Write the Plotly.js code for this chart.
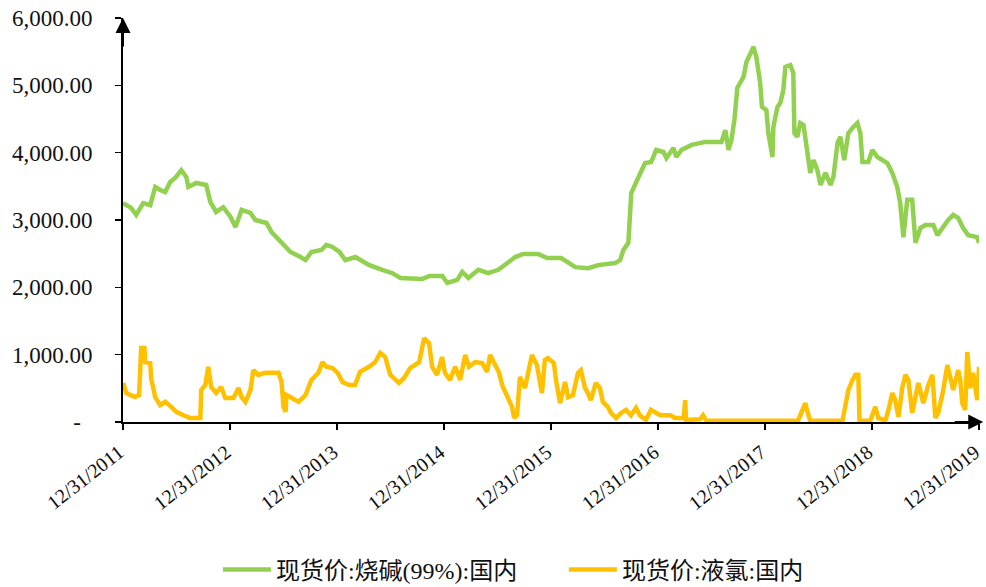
<!DOCTYPE html>
<html>
<head>
<meta charset="utf-8">
<script src="https://cdn.plot.ly/plotly-3.0.1.min.js"></script>
<style>
html,body{margin:0;padding:0;background:#fff;}
#chart{width:986px;height:587px;}
</style>
</head>
<body>
<div id="chart"></div>
<script>
// ---- Data ----
var seriesNames = ["现货价:烧碱(99%):国内", "现货价:液氯:国内"];

var sodaDates = ["2011-12-31","2012-01-28","2012-02-14","2012-03-09","2012-04-02","2012-04-19","2012-05-06","2012-05-23","2012-06-09","2012-06-26","2012-07-17","2012-08-03","2012-08-10","2012-09-06","2012-10-10","2012-10-24","2012-11-13","2012-12-07","2013-01-01","2013-01-18","2013-02-08","2013-03-10","2013-03-27","2013-05-04","2013-05-21","2013-06-24","2013-07-25","2013-08-28","2013-09-14","2013-10-04","2013-11-07","2013-11-24","2013-12-15","2014-01-08","2014-01-28","2014-03-03","2014-04-20","2014-06-03","2014-07-08","2014-08-04","2014-10-18","2014-11-11","2014-12-25","2015-01-11","2015-02-14","2015-03-03","2015-03-24","2015-04-27","2015-05-31","2015-07-04","2015-08-07","2015-08-31","2015-09-27","2015-11-17","2015-12-18","2016-02-04","2016-03-23","2016-05-06","2016-06-09","2016-08-06","2016-08-23","2016-09-03","2016-09-20","2016-09-30","2016-10-17","2016-10-30","2016-11-16","2016-12-07","2016-12-24","2017-01-18","2017-01-28","2017-02-21","2017-03-03","2017-03-20","2017-04-24","2017-06-10","2017-08-04","2017-08-17","2017-08-28","2017-09-07","2017-09-17","2017-09-27","2017-10-18","2017-10-28","2017-11-11","2017-11-21","2017-12-01","2017-12-08","2017-12-14","2017-12-20","2018-01-04","2018-01-11","2018-01-25","2018-01-28","2018-02-11","2018-02-21","2018-03-03","2018-03-10","2018-03-27","2018-04-06","2018-04-10","2018-04-20","2018-04-30","2018-05-11","2018-05-24","2018-06-03","2018-06-14","2018-06-27","2018-07-08","2018-07-25","2018-08-11","2018-08-21","2018-09-04","2018-09-14","2018-09-27","2018-10-11","2018-10-28","2018-11-11","2018-11-21","2018-11-28","2018-12-18","2019-01-01","2019-01-18","2019-02-21","2019-03-10","2019-03-27","2019-04-06","2019-04-17","2019-04-30","2019-05-17","2019-05-28","2019-06-14","2019-07-01","2019-07-28","2019-08-11","2019-08-28","2019-09-17","2019-10-04","2019-10-21","2019-11-07","2019-11-24","2019-12-25","2019-12-31"];
var sodaValues = [3250,3180,3075,3250,3220,3490,3445,3415,3565,3625,3740,3640,3490,3550,3520,3270,3120,3190,3045,2895,3150,3105,3000,2955,2820,2670,2525,2450,2405,2525,2555,2630,2600,2525,2405,2450,2330,2260,2210,2140,2125,2170,2170,2065,2110,2230,2140,2260,2210,2260,2360,2450,2495,2495,2435,2435,2300,2285,2330,2360,2405,2555,2660,3400,3565,3700,3845,3860,4040,4010,3920,4070,3935,4040,4115,4160,4160,4335,4040,4190,4485,4960,5125,5345,5480,5570,5420,5230,5035,4680,4635,4290,3935,4380,4680,4740,4930,5275,5300,5185,4290,4235,4440,4410,3935,3700,3890,3745,3520,3700,3520,3640,4145,4235,3890,4290,4380,4440,4290,3860,3860,4040,3935,3845,3700,3490,3250,2745,3300,3300,2660,2880,2925,2925,2775,2880,3000,3075,3030,2880,2775,2745,2660];

var chlorDates = ["2012-01-01","2012-01-11","2012-02-10","2012-02-24","2012-03-02","2012-03-13","2012-03-16","2012-04-02","2012-04-05","2012-04-19","2012-05-06","2012-05-23","2012-06-13","2012-06-30","2012-07-24","2012-08-16","2012-09-20","2012-09-23","2012-10-07","2012-10-17","2012-10-27","2012-11-13","2012-11-30","2012-12-14","2013-01-11","2013-01-28","2013-02-08","2013-02-21","2013-03-10","2013-03-20","2013-04-06","2013-04-30","2013-06-14","2013-06-24","2013-07-01","2013-07-08","2013-07-11","2013-07-28","2013-08-21","2013-09-14","2013-10-04","2013-10-28","2013-11-11","2013-11-24","2013-12-15","2014-01-02","2014-01-18","2014-02-10","2014-03-02","2014-03-19","2014-04-19","2014-05-10","2014-05-27","2014-06-13","2014-06-30","2014-07-30","2014-08-16","2014-09-06","2014-10-07","2014-10-24","2014-11-10","2014-11-20","2014-12-07","2014-12-24","2015-01-03","2015-01-20","2015-02-07","2015-02-24","2015-03-13","2015-03-26","2015-04-16","2015-05-10","2015-05-27","2015-06-06","2015-06-20","2015-07-07","2015-07-17","2015-08-03","2015-08-20","2015-08-27","2015-09-06","2015-09-16","2015-10-03","2015-10-27","2015-11-13","2015-11-30","2015-12-10","2015-12-20","2016-01-10","2016-01-17","2016-01-31","2016-02-17","2016-02-27","2016-03-15","2016-04-01","2016-04-11","2016-04-25","2016-05-05","2016-05-15","2016-06-01","2016-06-15","2016-06-25","2016-07-12","2016-07-23","2016-08-09","2016-08-26","2016-09-12","2016-09-29","2016-10-16","2016-10-29","2016-11-19","2016-12-06","2016-12-20","2017-01-07","2017-02-10","2017-02-27","2017-03-19","2017-03-28","2017-04-02","2017-04-05","2017-05-23","2017-06-02","2017-06-13","2018-04-22","2018-04-30","2018-05-17","2018-05-28","2018-06-03","2018-09-21","2018-10-01","2018-10-11","2018-10-25","2018-11-04","2018-11-14","2018-11-18","2018-12-25","2019-01-11","2019-01-21","2019-02-14","2019-02-25","2019-03-10","2019-03-20","2019-03-31","2019-04-13","2019-04-24","2019-05-04","2019-05-17","2019-05-28","2019-06-07","2019-06-24","2019-07-11","2019-07-25","2019-08-04","2019-08-14","2019-08-31","2019-09-14","2019-09-24","2019-10-04","2019-10-21","2019-10-28","2019-11-04","2019-11-14","2019-11-21","2019-12-01","2019-12-11","2019-12-25","2019-12-31"];
var chlorValues = [580,430,370,400,1100,1100,890,875,650,370,250,300,225,150,100,60,60,475,550,820,520,430,520,355,355,505,370,300,475,770,700,730,730,595,225,150,400,355,300,400,625,730,890,820,800,730,595,550,550,745,820,890,1025,965,700,580,650,800,890,1245,1170,820,700,965,730,625,820,625,995,820,890,875,745,995,890,730,550,400,225,60,100,670,505,995,845,430,920,950,875,625,280,595,370,400,730,770,505,430,325,580,505,300,225,135,60,135,180,100,210,100,30,180,150,100,100,60,60,60,325,30,40,100,20,20,100,280,100,20,20,300,475,625,700,700,20,20,225,60,20,180,430,325,75,505,700,625,135,370,580,280,550,700,60,135,475,845,625,475,770,625,280,180,1040,505,730,325,820];

var yTickVals = [0,1000,2000,3000,4000,5000,6000];
var yTickText = ["-\u00a0\u00a0","1,000.00","2,000.00","3,000.00","4,000.00","5,000.00","6,000.00"];
var xTickVals = ["2011-12-31","2012-12-31","2013-12-31","2014-12-31","2015-12-31","2016-12-31","2017-12-31","2018-12-31","2019-12-31"];

var FONT = "Liberation Serif, 'Times New Roman', 'Noto Sans CJK SC', serif";

var traces = [
  {x: sodaDates, y: sodaValues, name: seriesNames[0], type: "scatter", mode: "lines",
   line: {color: "#92D050", width: 4.5}},
  {x: chlorDates, y: chlorValues, name: seriesNames[1], type: "scatter", mode: "lines",
   line: {color: "#FFC000", width: 4.5}}
];

var layout = {
  width: 986, height: 587,
  margin: {l: 123, r: 7, t: 18, b: 165},
  paper_bgcolor: "#fff", plot_bgcolor: "#fff",
  font: {family: FONT, size: 22, color: "#111"},
  showlegend: true,
  legend: {orientation: "h", xref: "container", yref: "container",
           x: 0.221, xanchor: "left", y: 0.029, yanchor: "middle",
           entrywidth: 283, entrywidthmode: "pixels",
           font: {family: FONT, size: 24, color: "#111"}, itemwidth: 48, traceorder: "normal"},
  xaxis: {
    type: "date", range: ["2011-12-31", "2019-12-31"],
    tickmode: "array", tickvals: xTickVals, tickformat: "%m/%d/%Y",
    tickangle: -38, ticks: "outside", ticklen: 6, tickwidth: 1.5, tickcolor: "#000",
    showline: true, linecolor: "#000", linewidth: 2, showgrid: false, zeroline: false,
    ticklabelstandoff: 3, ticklabelshift: -4, ticklabeloverflow: "allow",
    tickfont: {family: FONT, size: 20, color: "#111"}
  },
  yaxis: {
    range: [0, 6000], tickmode: "array", tickvals: yTickVals, ticktext: yTickText,
    ticks: "outside", ticklen: 6, tickwidth: 1.5, tickcolor: "#000",
    showline: true, linecolor: "#000", linewidth: 2, showgrid: false, zeroline: false,
    ticklabelstandoff: 18,
    tickfont: {family: FONT, size: 23, color: "#111"}
  },
  annotations: [
    {xref: "paper", yref: "paper", x: 0, y: 1, ax: 0, ay: 30, text: "", showarrow: true,
     arrowhead: 2, arrowsize: 1.5, arrowwidth: 2, arrowcolor: "#000"},
    {xref: "paper", yref: "paper", x: 1.005, y: 0, ax: -30, ay: 0, text: "", showarrow: true,
     arrowhead: 2, arrowsize: 1.5, arrowwidth: 2, arrowcolor: "#000"}
  ]
};

Plotly.newPlot("chart", traces, layout, {displayModeBar: false, staticPlot: true});
</script>
</body>
</html>
